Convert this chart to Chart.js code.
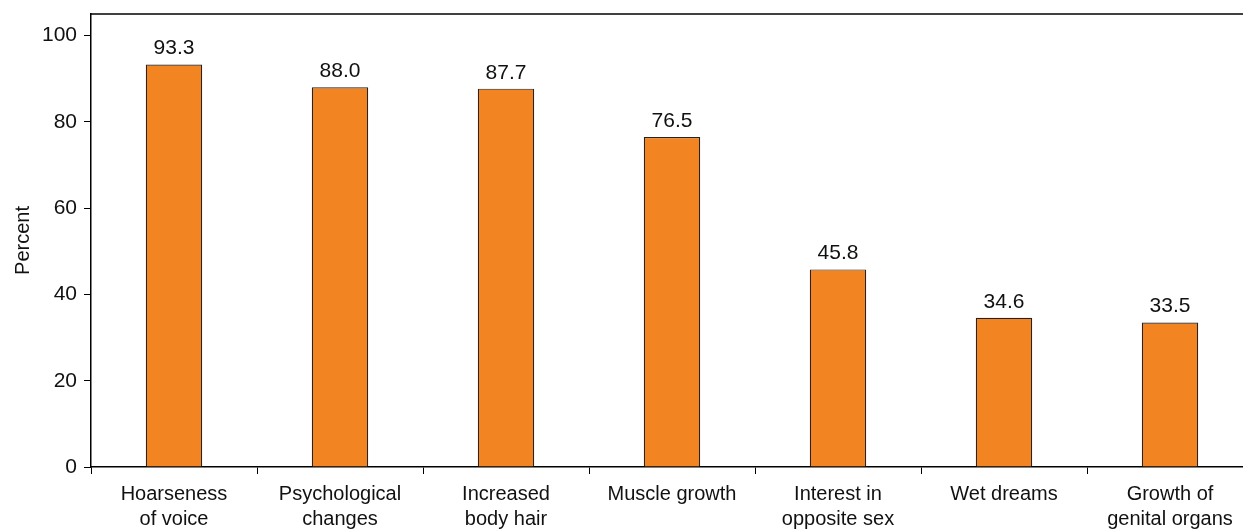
<!DOCTYPE html>
<html>
<head>
<meta charset="utf-8">
<script src="https://cdn.jsdelivr.net/npm/chart.js@4/dist/chart.umd.min.js"></script>
<style>
html,body{margin:0;padding:0;background:#fff;overflow:hidden;}
#wrap{position:relative;width:1253px;height:529px;}
</style>
</head>
<body>
<div id="wrap"><canvas id="c" width="1253" height="529"></canvas></div>
<script>
const categories = [
  ["Hoarseness","of voice"],
  ["Psychological","changes"],
  ["Increased","body hair"],
  ["Muscle growth"],
  ["Interest in","opposite sex"],
  ["Wet dreams"],
  ["Growth of","genital organs"]
];
const percentValues = [93.3, 88.0, 87.7, 76.5, 45.8, 34.6, 33.5];
const yTicks = [0, 20, 40, 60, 80, 100];

const FONT = "'Liberation Sans', Arial, sans-serif";

const topBorder = {
  id: 'topBorder',
  afterDraw(chart) {
    const {ctx, chartArea} = chart;
    ctx.save();
    ctx.strokeStyle = '#000';
    ctx.lineWidth = 1.5;
    ctx.beginPath();
    ctx.moveTo(chartArea.left, chartArea.top);
    ctx.lineTo(chartArea.right, chartArea.top);
    ctx.stroke();
    ctx.restore();
  }
};

const valueLabels = {
  id: 'valueLabels',
  afterDatasetsDraw(chart) {
    const {ctx} = chart;
    const meta = chart.getDatasetMeta(0);
    ctx.save();
    ctx.fillStyle = '#111';
    ctx.font = '21px ' + FONT;
    ctx.textAlign = 'center';
    ctx.textBaseline = 'alphabetic';
    meta.data.forEach((bar, i) => {
      ctx.fillText(percentValues[i].toFixed(1), bar.x, bar.y - 10);
    });
    ctx.restore();
  }
};

new Chart(document.getElementById('c'), {
  type: 'bar',
  data: {
    labels: categories,
    datasets: [{
      data: percentValues,
      backgroundColor: '#F38422',
      borderColor: '#222',
      borderWidth: 1.2,
      barPercentage: 0.34,
      categoryPercentage: 1.0
    }]
  },
  options: {
    responsive: false,
    animation: false,
    devicePixelRatio: 1,
    layout: {padding: {top: 14, right: 0, bottom: 0, left: 0}},
    plugins: {legend: {display: false}, tooltip: {enabled: false}},
    scales: {
      x: {
        grid: {display: true, drawOnChartArea: false, tickLength: 7, color: '#000', offset: true},
        border: {display: true, color: '#000', width: 1.5},
        ticks: {color: '#111', font: {size: 20, family: FONT, lineHeight: 1.25}, padding: 8, maxRotation: 0, autoSkip: false},
        afterFit(scale) { scale.height = 62; scale.paddingLeft = 0; scale.paddingRight = 0; }
      },
      y: {
        min: 0,
        max: 105,
        afterBuildTicks(scale) { scale.ticks = yTicks.map(v => ({value: v})); },
        grid: {display: true, drawOnChartArea: false, tickLength: 7, color: '#000'},
        border: {display: true, color: '#000', width: 1.5},
        ticks: {color: '#111', font: {size: 21, family: FONT}, padding: 7},
        title: {display: true, text: 'Percent', color: '#111', font: {size: 20, family: FONT}, padding: {top: 11, bottom: 0}},
        afterFit(scale) { scale.width = 91; scale.paddingTop = 0; scale.paddingBottom = 0; }
      }
    }
  },
  plugins: [topBorder, valueLabels]
});
</script>
</body>
</html>
